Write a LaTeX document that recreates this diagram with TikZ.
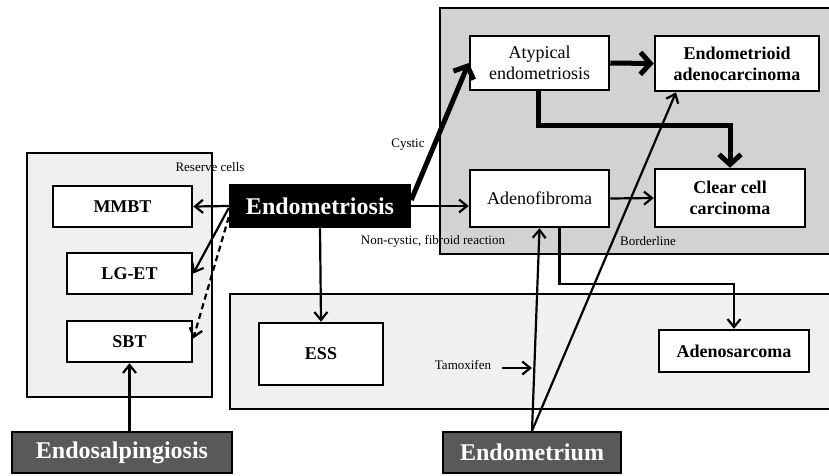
\documentclass[tikz,border=0pt]{standalone}
\usepackage{fontspec}
\setmainfont{Liberation Serif}
\usetikzlibrary{arrows.meta}

\begin{document}
\begin{tikzpicture}[x=1pt,y=-1pt,
    box/.style={draw,line width=2.5pt,fill=white,align=center,inner sep=0pt,font=\fontsize{18}{21}\selectfont},
    bbox/.style={box,font=\fontsize{18}{21}\selectfont\bfseries},
    dark/.style={draw,line width=2.5pt,inner sep=0pt,text=white,font=\fontsize{24}{28}\selectfont\bfseries},
    lbl/.style={font=\fontsize{13}{15}\selectfont,inner sep=0pt},
    arr/.style={line width=2.2pt,-{Straight Barb[length=8pt,width=13pt]}},
    fat/.style={line width=5pt,-{Straight Barb[length=10pt,width=22pt]}}]
            \useasboundingbox (0,0) rectangle (829,475);
            \filldraw[fill=gray!12,line width=2.5pt] (27,153) rectangle (212,397);
            \filldraw[fill=gray!35,line width=2.5pt] (440,8) rectangle (835,254);
            \filldraw[fill=gray!12,line width=2.5pt] (230,294) rectangle (835,409);

            \node[bbox,minimum width=139,minimum height=41] (mmbt) at (122.5,206.5) {MMBT};
            \node[bbox,minimum width=125,minimum height=41] (lget) at (129.5,273.5) {LG-ET};
            \node[bbox,minimum width=125,minimum height=41] (sbt)  at (129.5,341.5) {SBT};
            \node[dark,fill=black!65,minimum width=220,minimum height=41] (endsal) at (122,452.5) {Endosalpingiosis};
            \node[dark,fill=black,minimum width=180,minimum height=42] (endo) at (320,206) {Endometriosis};
            \node[bbox,minimum width=124,minimum height=62] (ess) at (321,354) {ESS};
            \node[box,minimum width=139,minimum height=54] (atyp) at (539.5,63) {Atypical\\endometriosis};
            \node[bbox,minimum width=164,minimum height=55] (endmtd) at (737,63.5) {Endometrioid\\adenocarcinoma};
            \node[box,minimum width=139,minimum height=57] (adeno) at (539.5,198.5) {Adenofibroma};
            \node[bbox,minimum width=150,minimum height=58] (clear) at (730,198) {Clear cell\\carcinoma};
            \node[bbox,minimum width=150,minimum height=42] (sarc) at (734,351) {Adenosarcoma};
            \node[dark,fill=black!65,minimum width=178,minimum height=41] (endm) at (532,452.5) {Endometrium};

            \node[lbl] (reserve) at (210,167) {Reserve cells};
            \node[lbl] (cystic) at (408,145) {Cystic};
            \node[lbl] (noncystic) at (433,241) {Non-cystic, fibroid reaction};
            \node[lbl] (border) at (648,241) {Borderline};
            \node[lbl] (tamox) at (463,365) {Tamoxifen};
            \coordinate (tamtail) at (502,368);
            \coordinate (tamtip) at (532,368);

            \draw[fat] ([yshift=6pt]endo.east) -- (atyp.west);
            \draw[fat] (atyp.east) -- (endmtd.west);
            \draw[fat] ([xshift=-1pt]atyp.south) -- ++(0,34) -| (clear.north);
            \draw[arr] (endo.east) -- (endo.east -| adeno.west);
            \draw[arr] (adeno.east) -- (clear.west);
            \draw[arr] ([xshift=20pt]adeno.south) -- ++(0,56) -| (sarc.north);
            \draw[arr] (endm.north) -- (adeno.south);
            \draw[arr] (endm.north) -- ([xshift=-61pt]endmtd.south);
            \draw[arr] (tamtail) -- (tamtip);
            \draw[arr] (endo.south) -- (ess.north);
            \draw[arr] (endo.west) -- (mmbt.east);
            \draw[arr] ([yshift=-2pt]endo.west) -- (lget.east);
            \draw[arr,dash pattern=on 6pt off 4pt] ([yshift=-11pt]endo.west) -- ([yshift=3pt]sbt.east);
            \draw[arr] (endsal.north -| sbt.south) -- (sbt.south);
        \end{tikzpicture}
\end{document}
